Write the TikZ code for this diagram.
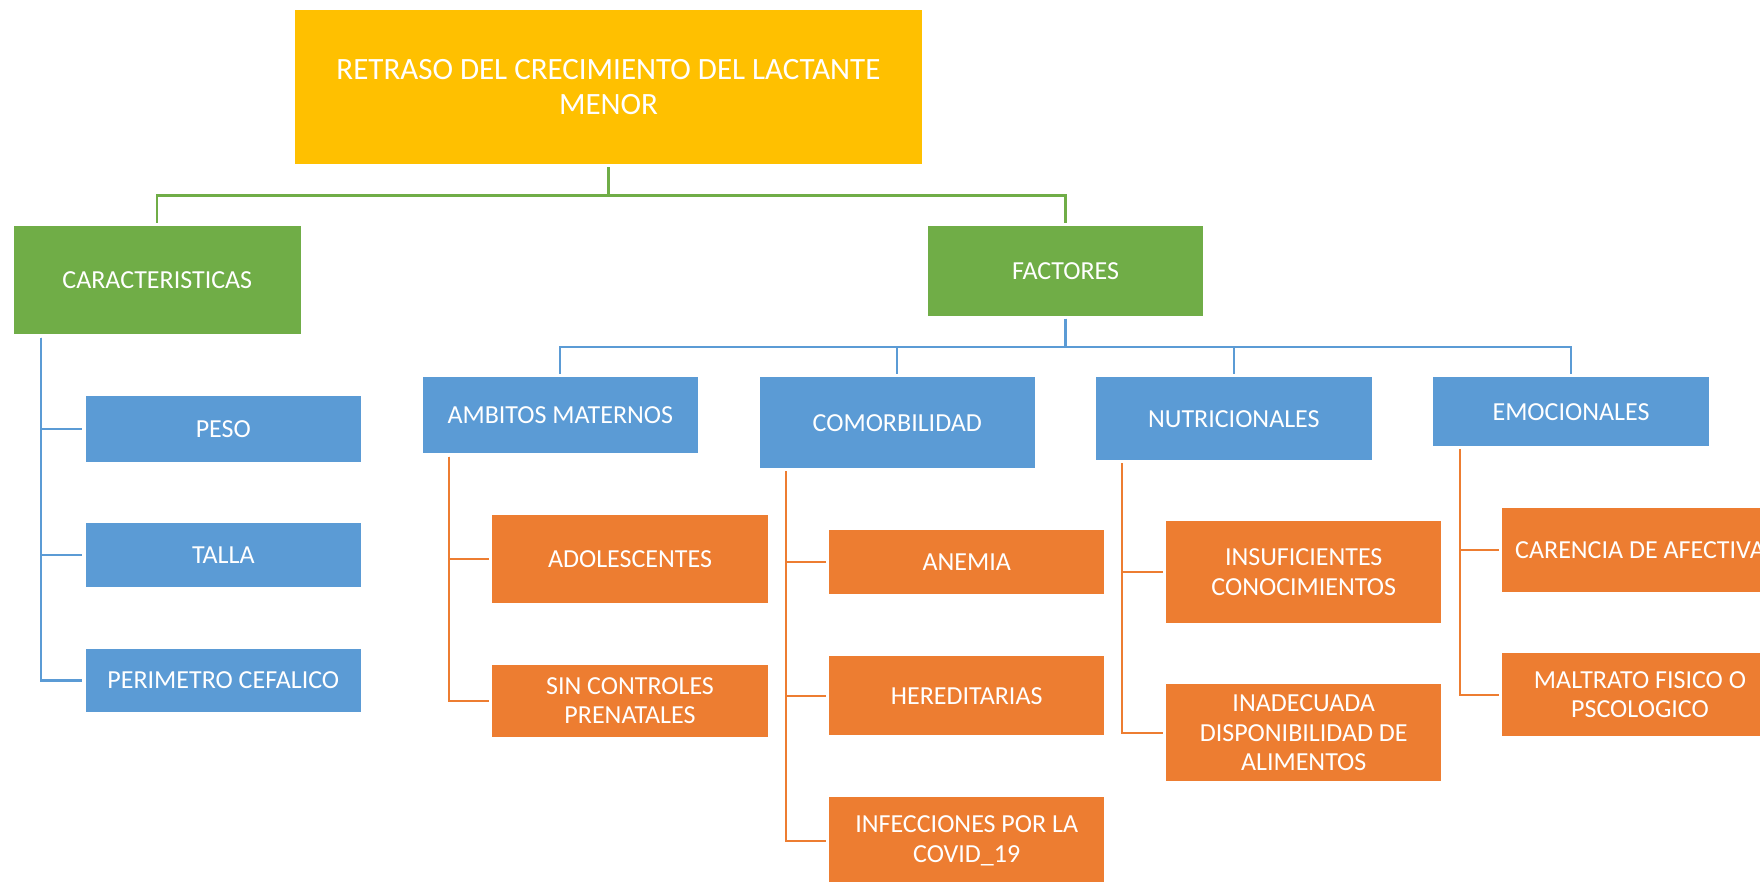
\documentclass[tikz,border=0pt]{standalone}
\usepackage{fontspec}
\setmainfont{Carlito}
\usetikzlibrary{calc}
\definecolor{cyel}{HTML}{FFC000}
\definecolor{cgrn}{HTML}{70AD47}
\definecolor{cblu}{HTML}{5B9BD5}
\definecolor{corg}{HTML}{ED7D31}
\begin{document}
\begin{tikzpicture}[x=1pt,y=-1pt,
  base/.style={rectangle, inner sep=0pt, text=white, align=center, font=\fontsize{26}{29.5}\selectfont},
  topbox/.style={base, fill=cyel, minimum width=626.5pt, minimum height=154pt, font=\fontsize{31}{34.7}\selectfont},
  gbox/.style={base, fill=cgrn},
  bbox/.style={base, fill=cblu, minimum width=275.5pt},
  obox/.style={base, fill=corg, minimum width=275.5pt},
  conn/.style={line width=2.2pt, shorten <=3pt, shorten >=3pt},
  gline/.style={conn, draw=cgrn},
  bline/.style={conn, draw=cblu},
  oline/.style={conn, draw=corg}]
\path[use as bounding box, clip] (0,0) rectangle (1760,881);
\fill[white] (0,0) rectangle (1760,881);

\node[topbox] (top) at (608.5,87.2) {RETRASO DEL CRECIMIENTO DEL LACTANTE\\MENOR};
\node[gbox, minimum width=287.5pt, minimum height=108.6pt] (car) at (157.3,280) {CARACTERISTICAS};
\node[gbox, minimum width=275pt, minimum height=90pt] (fac) at (1065.5,270.7) {FACTORES};

\node[bbox, minimum height=76pt] (amb) at (560.3,415.3) {AMBITOS MATERNOS};
\node[bbox, minimum height=90.7pt] (com) at (897.3,422.7) {COMORBILIDAD};
\node[bbox, minimum height=82.7pt] (nut) at (1233.8,418.7) {NUTRICIONALES};
\node[bbox, minimum height=68.7pt] (emo) at (1571,411.7) {EMOCIONALES};

\node[bbox, minimum height=66.6pt] (peso) at (223.3,429) {PESO};
\node[bbox, minimum height=64pt] (talla) at (223.3,555.3) {TALLA};
\node[bbox, minimum height=63pt] (peri) at (223.3,680.5) {PERIMETRO CEFALICO};

\node[obox, minimum height=88.6pt] (adol) at (630,559) {ADOLESCENTES};
\node[obox, minimum height=71.7pt] (sinc) at (630,700.8) {SIN CONTROLES\\PRENATALES};

\node[obox, minimum height=64.6pt] (anem) at (966.7,562) {ANEMIA};
\node[obox, minimum height=79.3pt] (here) at (966.7,695.7) {HEREDITARIAS};
\node[obox, minimum height=88.6pt] (infe) at (966.7,841) {INFECCIONES POR LA\\COVID\_19};

\node[obox, minimum height=101.4pt] (insu) at (1303.7,572) {INSUFICIENTES\\CONOCIMIENTOS};
\node[obox, minimum height=97pt] (inad) at (1303.7,732.8) {INADECUADA\\DISPONIBILIDAD DE\\ALIMENTOS};

\node[obox, minimum height=84.3pt] (care) at (1640,549.8) {CARENCIA DE AFECTIVA};
\node[obox, minimum height=83pt] (malt) at (1640,694.8) {MALTRATO FISICO O\\PSCOLOGICO};

% green connectors
\draw[gline] (top.south) -- ++(0,31) -| (car.north);
\draw[gline] (top.south) -- ++(0,31) -| (fac.north);

% blue connectors from FACTORES
\foreach \t in {amb,com,nut,emo}
  \draw[bline] (fac.south) -- ++(0,31) -| (\t.north);

% CARACTERISTICAS children
\foreach \t in {peso,talla,peri}
  \draw[bline] ($(car.south west)+(27.5,0)$) |- (\t.west);

% orange children
\foreach \t in {adol,sinc}
  \draw[oline] ($(amb.south west)+(27,0)$) |- (\t.west);
\foreach \t in {anem,here,infe}
  \draw[oline] ($(com.south west)+(26.5,0)$) |- (\t.west);
\foreach \t in {insu,inad}
  \draw[oline] ($(nut.south west)+(26.5,0)$) |- (\t.west);
\foreach \t in {care,malt}
  \draw[oline] ($(emo.south west)+(26.7,0)$) |- (\t.west);
\end{tikzpicture}
\end{document}
